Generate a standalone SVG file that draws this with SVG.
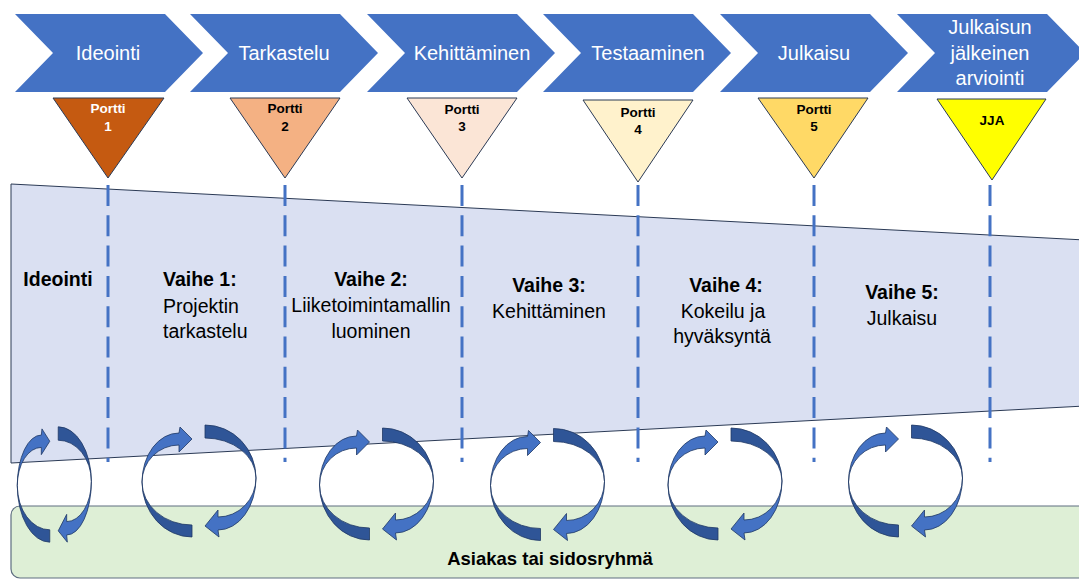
<svg xmlns="http://www.w3.org/2000/svg" xmlns:xlink="http://www.w3.org/1999/xlink" width="1079" height="579" viewBox="0 0 1079 579">
  <style>
    .chev { fill: #4472C4; }
    .chev-t { font-family: "Liberation Sans", Arial, sans-serif; font-size: 20px; fill: #FFFFFF; text-anchor: middle; }
    .gate { stroke: #2B3A55; stroke-width: 1; }
    .gate-t { font-family: "Liberation Sans", Arial, sans-serif; font-size: 13.5px; font-weight: bold; text-anchor: middle; fill: #000000; }
    .stage { font-family: "Liberation Sans", Arial, sans-serif; font-size: 19.5px; fill: #000000; }
    .b { font-weight: bold; }
    .mid { text-anchor: middle; }
    .guide { stroke: #4472C4; stroke-width: 3; stroke-dasharray: 21 9.3; fill: none; }
    .lite { fill: #4472C4; stroke: #1F3864; stroke-width: 0.8; }
    .dark { fill: #2F5597; stroke: #1F3864; stroke-width: 0.8; }
  </style>
  <defs>
    <!-- pair of curved arrows forming a loop, centred on the gap between them -->
    <g id="cycle">
      <path class="dark" vector-effect="non-scaling-stroke" d="M -56.5 1 A 50 55 0 0 0 -6.5 56 L -6.5 44 A 50 43 0 0 1 -56.5 1 Z"/>
      <path class="lite" vector-effect="non-scaling-stroke" d="M -56.5 1 A 37 49 0 0 1 -19.5 -48 L -18.5 -54 L -6.5 -42 L -19.5 -29 L -19.5 -36 A 37 37 0 0 0 -56.5 1 Z"/>
      <path class="dark" vector-effect="non-scaling-stroke" d="M 6.5 -56 A 51 53 0 0 1 57.5 -3 A 51 40 0 0 0 6.5 -43 Z"/>
      <path class="lite" vector-effect="non-scaling-stroke" d="M 57.5 -3 A 38 52 0 0 1 19.5 49 L 20.5 56 L 6.5 45 L 19.5 29 L 19.5 36 A 38 39 0 0 0 57.5 -3 Z"/>
    </g>
  </defs>

  <rect width="1079" height="579" fill="#FFFFFF"/>

  <!-- process chevrons -->
  <g id="chev-ideointi">
    <polygon class="chev" points="15,14 165,14 203,53 165,92 15,92 53,53"/>
    <text class="chev-t" x="108" y="60">Ideointi</text>
  </g>
  <g id="chev-tarkastelu">
    <polygon class="chev" points="190,14 340,14 378,53 340,92 190,92 228,53"/>
    <text class="chev-t" x="284" y="60">Tarkastelu</text>
  </g>
  <g id="chev-kehittaminen">
    <polygon class="chev" points="367,14 517,14 555,53 517,92 367,92 405,53"/>
    <text class="chev-t" x="472" y="60">Kehittäminen</text>
  </g>
  <g id="chev-testaaminen">
    <polygon class="chev" points="543,14 693,14 731,53 693,92 543,92 581,53"/>
    <text class="chev-t" x="648" y="60">Testaaminen</text>
  </g>
  <g id="chev-julkaisu">
    <polygon class="chev" points="720,14 870,14 908,53 870,92 720,92 758,53"/>
    <text class="chev-t" x="814" y="60">Julkaisu</text>
  </g>
  <g id="chev-arviointi">
    <polygon class="chev" points="897,14 1047,14 1085,53 1047,92 897,92 935,53"/>
    <text class="chev-t" x="990" y="34">Julkaisun</text>
    <text class="chev-t" x="990" y="60">jälkeinen</text>
    <text class="chev-t" x="990" y="85">arviointi</text>
  </g>

  <!-- gates -->
  <g id="gate-1">
    <polygon class="gate" fill="#C55A11" points="53,98 164,98 108,178"/>
    <text class="gate-t" x="108" y="113" style="fill:#FFFFFF">Portti</text>
    <text class="gate-t" x="108" y="131" style="fill:#FFFFFF">1</text>
  </g>
  <g id="gate-2">
    <polygon class="gate" fill="#F4B183" points="230,98 340,98 285,178"/>
    <text class="gate-t" x="285" y="113">Portti</text>
    <text class="gate-t" x="285" y="131">2</text>
  </g>
  <g id="gate-3">
    <polygon class="gate" fill="#FBE5D6" points="407,98 517,98 462,178"/>
    <text class="gate-t" x="462" y="114">Portti</text>
    <text class="gate-t" x="462" y="131">3</text>
  </g>
  <g id="gate-4">
    <polygon class="gate" fill="#FFF2CC" points="583,100 693,100 638,182"/>
    <text class="gate-t" x="638" y="117">Portti</text>
    <text class="gate-t" x="638" y="134">4</text>
  </g>
  <g id="gate-5">
    <polygon class="gate" fill="#FFD966" points="758,98 868,98 814,178"/>
    <text class="gate-t" x="814" y="114">Portti</text>
    <text class="gate-t" x="814" y="131">5</text>
  </g>
  <g id="gate-jja">
    <polygon class="gate" fill="#FFFF00" points="937,99 1046,99 992,180"/>
    <text class="gate-t" x="992" y="125">JJA</text>
  </g>

  <!-- narrowing funnel of stages -->
  <g id="funnel">
    <polygon points="11,184 1085,240 1085,406 11,463" fill="#DAE0F2" stroke="#2B3A55" stroke-width="1"/>
  </g>

  <!-- gate guide lines -->
  <g id="connectors">
    <line class="guide" x1="108" y1="185" x2="108" y2="462"/>
    <line class="guide" x1="285" y1="185" x2="285" y2="462"/>
    <line class="guide" x1="462" y1="185" x2="462" y2="462"/>
    <line class="guide" x1="638" y1="185" x2="638" y2="462"/>
    <line class="guide" x1="814" y1="185" x2="814" y2="462"/>
    <line class="guide" x1="990" y1="185" x2="990" y2="462"/>
  </g>

  <!-- customer band -->
  <g id="customer">
    <rect x="11" y="506" width="1100" height="72" rx="9" fill="#DEEFD6" stroke="#5E6E80" stroke-width="1.2"/>
    <text class="stage b mid" x="550" y="565" style="font-size:18.5px">Asiakas tai sidosryhmä</text>
  </g>

  <!-- stage labels -->
  <g id="stage-ideointi">
    <text class="stage b mid" x="58" y="286">Ideointi</text>
  </g>
  <g id="stage-1">
    <text class="stage b" x="163" y="286">Vaihe 1:</text>
    <text class="stage" x="163" y="313">Projektin</text>
    <text class="stage" x="163" y="338">tarkastelu</text>
  </g>
  <g id="stage-2">
    <text class="stage b mid" x="371" y="286">Vaihe 2:</text>
    <text class="stage mid" x="371" y="312">Liiketoimintamallin</text>
    <text class="stage mid" x="371" y="338">luominen</text>
  </g>
  <g id="stage-3">
    <text class="stage b mid" x="549" y="292">Vaihe 3:</text>
    <text class="stage mid" x="549" y="318">Kehittäminen</text>
  </g>
  <g id="stage-4">
    <text class="stage b mid" x="726" y="292">Vaihe 4:</text>
    <text class="stage mid" x="723" y="318">Kokeilu ja</text>
    <text class="stage mid" x="722" y="343">hyväksyntä</text>
  </g>
  <g id="stage-5">
    <text class="stage b mid" x="902" y="299">Vaihe 5:</text>
    <text class="stage mid" x="902" y="325">Julkaisu</text>
  </g>

  <!-- feedback loops -->
  <g id="loops">
    <use xlink:href="#cycle" href="#cycle" transform="translate(54,484.5) scale(0.65,1.03)"/>
    <use xlink:href="#cycle" href="#cycle" transform="translate(198.5,481)"/>
    <use xlink:href="#cycle" href="#cycle" transform="translate(376,484)"/>
    <use xlink:href="#cycle" href="#cycle" transform="translate(547,484.5)"/>
    <use xlink:href="#cycle" href="#cycle" transform="translate(724.5,484)"/>
    <use xlink:href="#cycle" href="#cycle" transform="translate(905,481)"/>
  </g>
</svg>
